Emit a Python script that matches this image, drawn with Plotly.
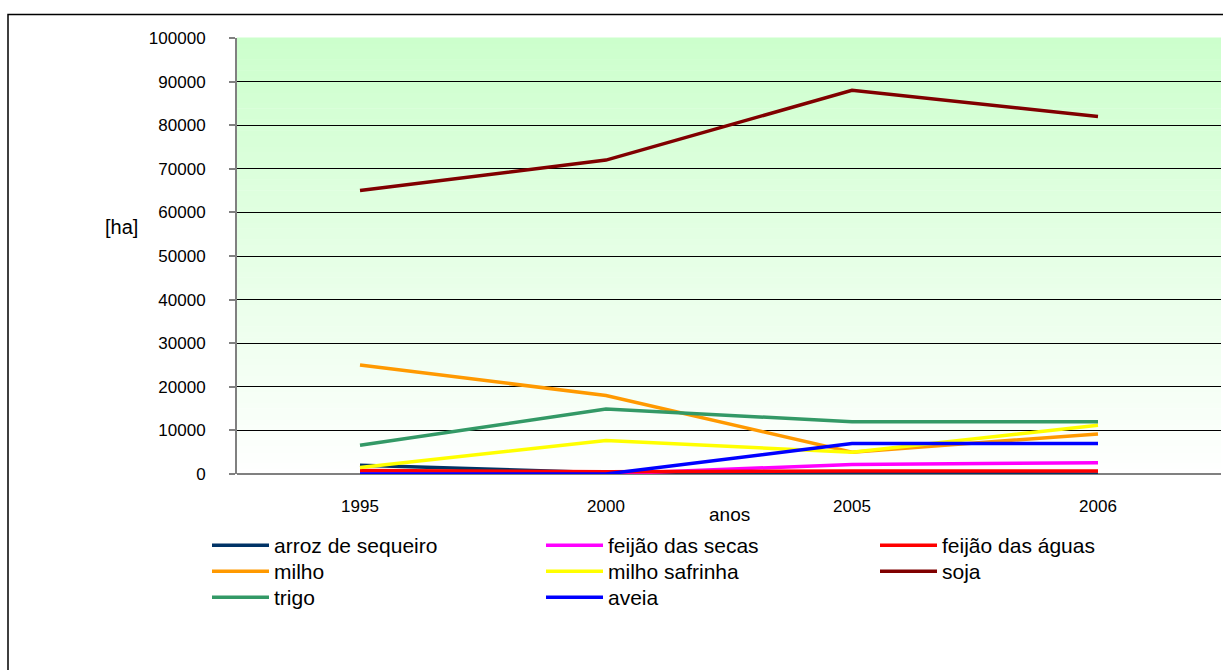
import plotly.graph_objects as go

anos = ["1995", "2000", "2005", "2006"]
arroz_de_sequeiro = [2000, 300, 200, 0]
feijao_das_secas = [0, 0, 2200, 2600]
feijao_das_aguas = [800, 500, 700, 700]
milho = [25000, 18000, 5000, 9200]
milho_safrinha = [1500, 7700, 5000, 11200]
soja = [65000, 72000, 88000, 82000]
trigo = [6600, 14900, 12000, 12000]
aveia = [0, 0, 7000, 7000]

y_ticks = [0, 10000, 20000, 30000, 40000, 50000, 60000, 70000, 80000, 90000, 100000]

series = [
    ("arroz de sequeiro", arroz_de_sequeiro, "#003366", "legend"),
    ("feijão das secas", feijao_das_secas, "#FF00FF", "legend"),
    ("feijão das águas", feijao_das_aguas, "#FF0000", "legend"),
    ("milho", milho, "#FF9900", "legend2"),
    ("milho safrinha", milho_safrinha, "#FFFF00", "legend2"),
    ("soja", soja, "#800000", "legend2"),
    ("trigo", trigo, "#339966", "legend3"),
    ("aveia", aveia, "#0000FF", "legend3"),
]

FONT = "Liberation Sans, Arial, sans-serif"

fig = go.Figure()
for name, vals, color, lg in series:
    fig.add_trace(go.Scatter(
        x=anos, y=vals, name=name, mode="lines",
        line=dict(color=color, width=3.5),
        legend=lg,
    ))

# gradient background (pale green at top fading to white)
shapes = []
n = 80
for i in range(n):
    frac = (i + 0.5) / n
    r = int(round(255 - (255 - 0xCC) * frac))
    shapes.append(dict(
        type="rect", xref="x domain", yref="y domain",
        x0=0, x1=1, y0=i / n, y1=(i + 1) / n + 0.001,
        fillcolor=f"rgb({r},255,{r})", line=dict(width=0), layer="below",
    ))

# outer frame
shapes.append(dict(
    type="rect", xref="paper", yref="paper",
    x0=(8 - 237) / 984, x1=(1226 - 237) / 984,
    y0=(474 - 700) / 436, y1=(474 - 14.5) / 436,
    line=dict(color="black", width=1.5), fillcolor="rgba(0,0,0,0)", layer="above",
))

legend_common = dict(
    orientation="h", xanchor="left", yanchor="top",
    font=dict(family=FONT, size=21, color="black"),
    bgcolor="rgba(0,0,0,0)", itemwidth=57,
    entrywidth=262, entrywidthmode="pixels",
    itemclick=False, itemdoubleclick=False,
    x=(207 - 237) / 984,
)

fig.update_layout(
    width=1223, height=670,
    margin=dict(l=237, r=2, t=38, b=196),
    paper_bgcolor="white",
    plot_bgcolor="rgba(0,0,0,0)",
    font=dict(family=FONT, size=17, color="black"),
    shapes=shapes,
    showlegend=True,
    legend=dict(y=(474 - 525) / 436, **legend_common),
    legend2=dict(y=(474 - 551) / 436, **legend_common),
    legend3=dict(y=(474 - 577) / 436, **legend_common),
    xaxis=dict(
        type="category", range=[-0.5, 3.5],
        showgrid=False, zeroline=False,
        showline=False, ticks="",
        tickfont=dict(family=FONT, size=17, color="black"),
        ticklabelstandoff=20,
    ),
    yaxis=dict(
        range=[0, 100000], tickvals=y_ticks, ticktext=[str(v) for v in y_ticks],
        showgrid=True, gridcolor="black", gridwidth=1,
        zeroline=True, zerolinecolor="#808080", zerolinewidth=2,
        showline=True, linecolor="#808080", linewidth=2,
        ticks="outside", ticklen=6, tickcolor="#808080", tickwidth=2,
        tickfont=dict(family=FONT, size=17, color="black"),
        ticklabelstandoff=20,
    ),
    annotations=[
        dict(text="anos", x=0.5, xref="paper", y=(474 - 514) / 436, yref="paper",
             showarrow=False, font=dict(family=FONT, size=19, color="black"),
             xanchor="center", yanchor="middle"),
        dict(text="[ha]", x=(121 - 237) / 984, xref="paper", y=(474 - 227) / 436, yref="paper",
             showarrow=False, font=dict(family=FONT, size=20, color="black"),
             xanchor="center", yanchor="middle"),
    ],
)

fig.write_html("out.html")
